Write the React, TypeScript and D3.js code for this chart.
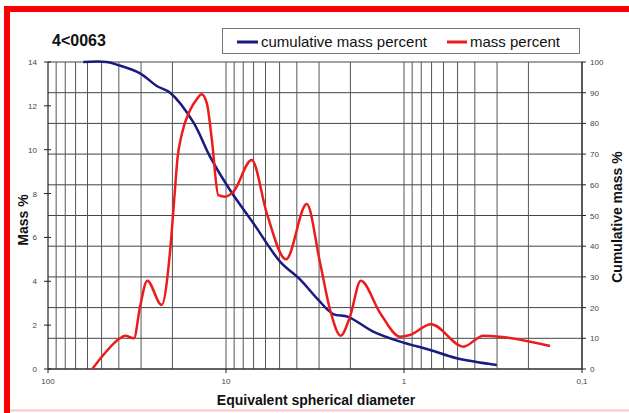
import React from "react";
import * as d3 from "d3";

const title = "4<0063";
const massDiam = [56.4, 48.9, 39.4, 36.9, 32.9, 30.4, 27.7, 23.0, 20.6, 19.47, 18.73, 17.67, 15.93, 14.6, 13.7, 12.8, 12.0, 11.05, 10.1, 9.1, 7.17, 5.9, 4.6, 3.52, 2.96, 2.6, 2.27, 2.01, 1.75, 1.36, 1.05, 0.925, 0.705, 0.464, 0.358, 0.289, 0.151];
const massPct = [0, 0.64, 1.4, 1.52, 1.4, 2.84, 4.03, 2.92, 5.4, 7.9, 9.6, 10.75, 11.8, 12.3, 12.53, 12.1, 10.44, 7.93, 7.86, 8.08, 9.53, 7.1, 5.0, 7.52, 4.83, 2.69, 1.52, 2.39, 4.03, 2.54, 1.47, 1.55, 2.04, 1.02, 1.52, 1.47, 1.05];
const cumDiam = [63.4, 46.8, 40.3, 30.4, 24.5, 20.6, 15.3, 12.3, 9.5, 7.02, 4.97, 3.84, 3.03, 2.5, 2.06, 1.49, 1.05, 0.714, 0.506, 0.301];
const cumPct = [100, 100, 99, 96.3, 92.2, 90, 80.5, 69.2, 58.3, 47.5, 35, 29.2, 22.5, 17.9, 17.0, 12.2, 8.9, 6.2, 3.5, 1.3];
const leftTicks = [0, 2, 4, 6, 8, 10, 12, 14];
const rightTicks = [0, 10, 20, 30, 40, 50, 60, 70, 80, 90, 100];
const xTicks = [100, 10, 1, 0.1];
const xTickLabels = ["100", "10", "1", "0,1"];
const decades = [0.1, 1, 10];

const FONT = "'Liberation Sans', Arial, sans-serif";
const RED = "#ec1c1c";
const BLUE = "#1a1a80";

export default function App() {
  const L = 48, R = 582, T = 62, B = 369;
  const x = d3.scaleLog().domain([100, 0.1]).range([L, R]);
  const yL = d3.scaleLinear().domain([0, 14]).range([B, T]);
  const yR = d3.scaleLinear().domain([0, 100]).range([B, T]);

  const gridX: number[] = [];
  decades.forEach((b) => {
    for (let m = 1; m <= 9; m++) gridX.push(m * b);
  });

  const massLine = d3
    .line<number>()
    .x((_, i) => x(massDiam[i]))
    .y((d) => yL(d))
    .curve(d3.curveMonotoneX);
  const cumLine = d3
    .line<number>()
    .x((_, i) => x(cumDiam[i]))
    .y((d) => yR(d))
    .curve(d3.curveCatmullRom.alpha(0.5));

  return (
    <svg
      width={629}
      height={413}
      style={{ position: "fixed", left: 0, top: 0, background: "#fff" }}
      fontFamily={FONT}
    >
      <rect x={0} y={0} width={629} height={413} fill="#fff" />
      {/* frame */}
      <line x1={4} y1={9} x2={629} y2={9} stroke="#ff0000" strokeWidth={6} />
      <line x1={7} y1={6} x2={7} y2={413} stroke="#ff0000" strokeWidth={6} />
      <line x1={10} y1={410.5} x2={629} y2={410.5} stroke="#ffc4c4" strokeWidth={2} />

      {/* title */}
      <text x={52} y={46} fontSize={16} fontWeight="bold" fill="#111">{title}</text>

      {/* legend */}
      <rect x={222.5} y={28.5} width={357} height={25} fill="#fff" stroke="#777" strokeWidth={1} />
      <line x1={237} x2={258} y1={42} y2={42} stroke={BLUE} strokeWidth={3} />
      <text x={261} y={47} fontSize={15} fill="#111">cumulative mass percent</text>
      <line x1={447} x2={467} y1={42} y2={42} stroke={RED} strokeWidth={3} />
      <text x={470} y={47} fontSize={15} fill="#111">mass percent</text>

      {/* horizontal grid */}
      {rightTicks.map((t) => (
        <line key={"h" + t} x1={L} x2={R} y1={yR(t)} y2={yR(t)} stroke="#444" strokeWidth={1} />
      ))}
      {/* vertical grid */}
      {gridX.map((v, i) => (
        <line key={"v" + i} x1={x(v)} x2={x(v)} y1={T} y2={B} stroke="#555" strokeWidth={1} />
      ))}

      {/* axes */}
      <line x1={L} x2={L} y1={T} y2={B} stroke="#222" strokeWidth={1.2} />
      <line x1={R} x2={R} y1={T} y2={B} stroke="#222" strokeWidth={1.2} />
      <line x1={L} x2={R} y1={B} y2={B} stroke="#222" strokeWidth={1.2} />

      {leftTicks.map((t) => (
        <g key={"lt" + t}>
          <line x1={L - 4} x2={L + 3} y1={yL(t)} y2={yL(t)} stroke="#222" strokeWidth={1} />
          <text x={37} y={yL(t) + 3} fontSize={8} fill="#444" textAnchor="end">{t}</text>
        </g>
      ))}
      {rightTicks.map((t) => (
        <g key={"rt" + t}>
          <line x1={R} x2={R + 4} y1={yR(t)} y2={yR(t)} stroke="#222" strokeWidth={1} />
          <text x={590} y={yR(t) + 3} fontSize={8} fill="#444">{t}</text>
        </g>
      ))}
      {xTicks.map((t, i) => (
        <g key={"xt" + t}>
          <line x1={x(t)} x2={x(t)} y1={B} y2={B + 4} stroke="#222" strokeWidth={1} />
          <text x={x(t)} y={384} fontSize={8} fill="#444" textAnchor="middle">{xTickLabels[i]}</text>
        </g>
      ))}

      {/* series */}
      <path d={cumLine(cumPct) || ""} fill="none" stroke={BLUE} strokeWidth={2.5} />
      <path d={massLine(massPct) || ""} fill="none" stroke={RED} strokeWidth={2.5} />

      {/* axis titles */}
      <text x={316} y={405} fontSize={14} fontWeight="bold" fill="#111" textAnchor="middle">
        Equivalent spherical diameter
      </text>
      <text
        transform="translate(28,220) rotate(-90)"
        fontSize={14}
        fontWeight="bold"
        fill="#111"
        textAnchor="middle"
      >
        Mass %
      </text>
      <text
        transform="translate(622,217) rotate(-90)"
        fontSize={14}
        fontWeight="bold"
        fill="#111"
        textAnchor="middle"
      >
        Cumulative mass %
      </text>
    </svg>
  );
}
